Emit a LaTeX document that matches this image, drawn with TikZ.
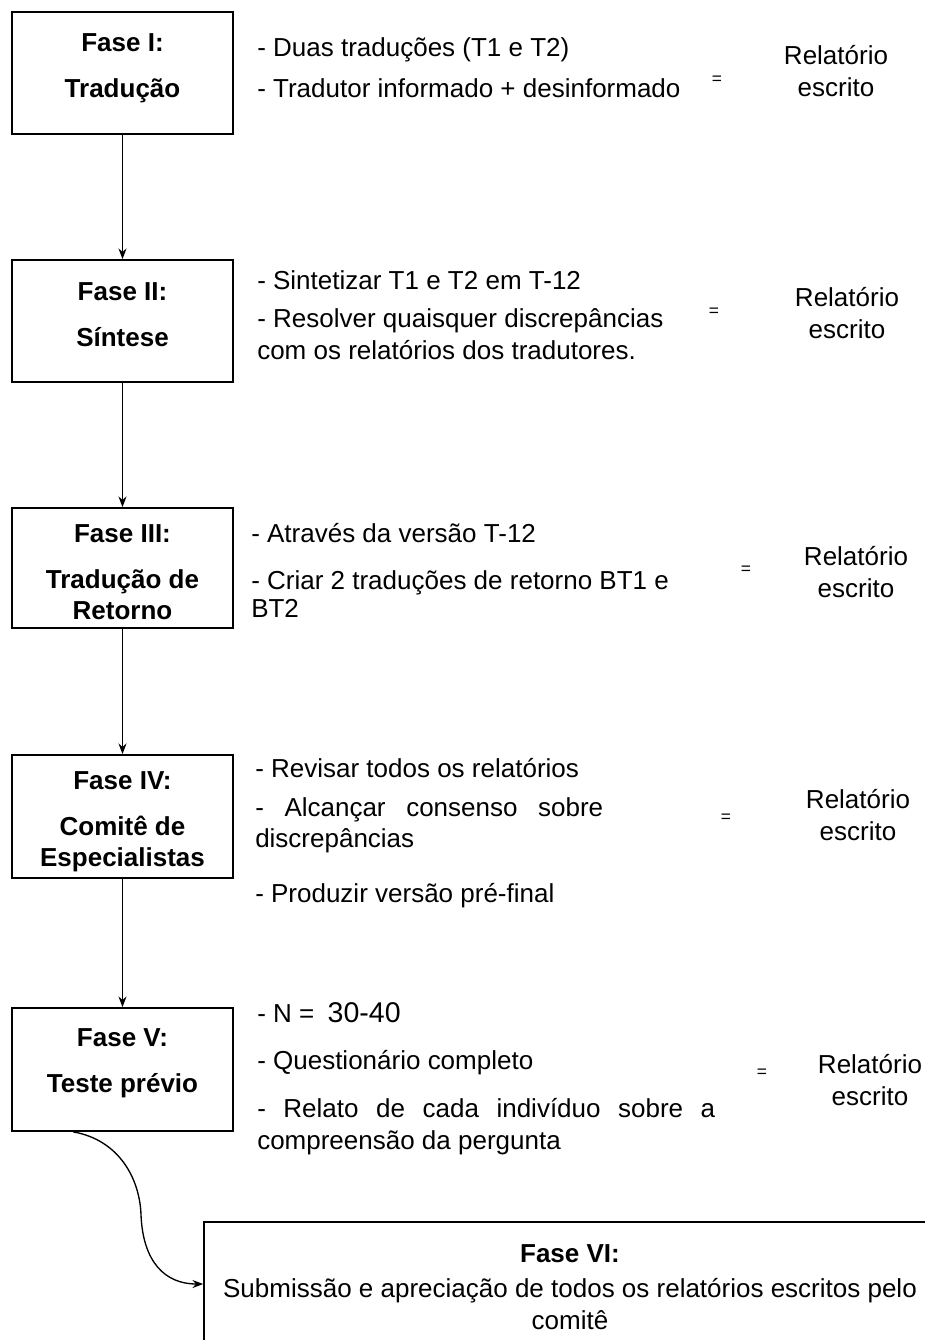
\documentclass[tikz,border=0pt]{standalone}
\usepackage{fontspec}
\setmainfont{Liberation Sans}
\usetikzlibrary{arrows.meta,calc}

\begin{document}
\begin{tikzpicture}[x=0.75pt,y=0.75pt,yscale=-1,xscale=1,
  fase/.style={draw,line width=1.3pt,minimum width=165.75pt,minimum height=91.5pt,inner sep=0pt},
  titulo/.style={inner sep=0pt,align=center,font=\fontsize{19.5}{23.4}\selectfont\bfseries},
  item/.style={anchor=base west,inner sep=0pt,font=\fontsize{19.5}{23.4}\selectfont},
  rel/.style={inner sep=0pt,align=center,font=\fontsize{19.5}{23.4}\selectfont},
  igual/.style={inner sep=0pt,font=\fontsize{13}{15}\selectfont},
  flow/.style={line width=1pt,-{Stealth[length=8pt,width=6pt]}}]
\useasboundingbox (0,0) rectangle (925,1340);

% Fases
\node [fase] (f1) at (122.5,73) {};
\node [fase] (f2) at (122.5,321) {};
\node [fase, minimum height=90pt] (f3) at (122.5,568) {};
\node [fase, minimum height=92.25pt] (f4) at (122.5,816.5) {};
\node [fase, minimum height=92.25pt] (f5) at (122.5,1069.5) {};
\node [fase, minimum width=549pt, minimum height=97.5pt, align=center, font=\fontsize{19.5}{23.4}\selectfont] (f6) at (570,1287) {{\bfseries Fase VI:}\\[3pt]Submissão e apreciação de todos os relatórios escritos pelo\\comitê};

\node [titulo] (t1) at (122.5,68.5) {Fase I:\\[11pt]Tradução};
\node [titulo] (t2) at (122.5,314.5) {Fase II:\\[11pt]Síntese};
\node [titulo] (t3) at (122.5,572.5) {Fase III:\\[11pt]Tradução de\\Retorno};
\node [titulo] (t4) at (122.5,821.5) {Fase IV:\\[11pt]Comitê de\\Especialistas};
\node [titulo] (t5) at (122.5,1063) {Fase V:\\[11pt]Teste prévio};

% Setas
\draw [flow] (f1) -- (f2);
\draw [flow] (f2) -- (f3);
\draw [flow] (f3) -- (f4);
\draw [flow] (f4) -- (f5);
\coordinate (f5out) at ($(f5.south west)+(62,0)$);
\coordinate (f6in) at ($(f6.west)+(0,-3)$);
\draw [flow] (f5out) .. controls (120,1140) and (140,1180) .. (141,1215) .. controls (143,1262) and (165,1284) .. (f6in);

% Fase I
\node [item] (i1a) at (257,56) {- Duas traduções (T1 e T2)};
\node [item] (i1b) at (257,97) {- Tradutor informado + desinformado};
\node [igual] (e1) at (717,80) {=};
\node [rel] (r1) at (836,71) {Relatório\\escrito};

% Fase II
\node [item] (i2a) at (257,289) {- Sintetizar T1 e T2 em T-12};
\node [item] (i2b) at (257,327) {- Resolver quaisquer discrepâncias};
\node [item] (i2c) at (257,359) {com os relatórios dos tradutores.};
\node [igual] (e2) at (714,312) {=};
\node [rel] (r2) at (847,313) {Relatório\\escrito};

% Fase III
\node [item] (i3a) at (251,542) {- Através da versão T-12};
\node [item] (i3b) at (251,589) {- Criar 2 traduções de retorno BT1 e};
\node [item] (i3c) at (251,617) {BT2};
\node [igual] (e3) at (746,570) {=};
\node [rel] (r3) at (856,572) {Relatório\\escrito};

% Fase IV
\node [item] (i4a) at (255,777) {- Revisar todos os relatórios};
\node [item] (i4b) at (255,816) {\makebox[261pt][s]{- Alcançar consenso sobre}};
\node [item] (i4c) at (255,847) {discrepâncias};
\node [item] (i4d) at (255,902) {- Produzir versão pré-final};
\node [igual] (e4) at (726,818) {=};
\node [rel] (r4) at (858,815) {Relatório\\escrito};

% Fase V
\node [item] (i5a) at (257,1022) {- N =\hspace{10pt}{\fontsize{21.4}{25}\selectfont 30-40}};
\node [item] (i5b) at (257,1069) {- Questionário completo};
\node [item] (i5c) at (257,1117) {\makebox[343.5pt][s]{- Relato de cada indivíduo sobre a}};
\node [item] (i5d) at (257,1149) {compreensão da pergunta};
\node [igual] (e5) at (762,1073) {=};
\node [rel] (r5) at (870,1080) {Relatório\\escrito};

\end{tikzpicture}
\end{document}
